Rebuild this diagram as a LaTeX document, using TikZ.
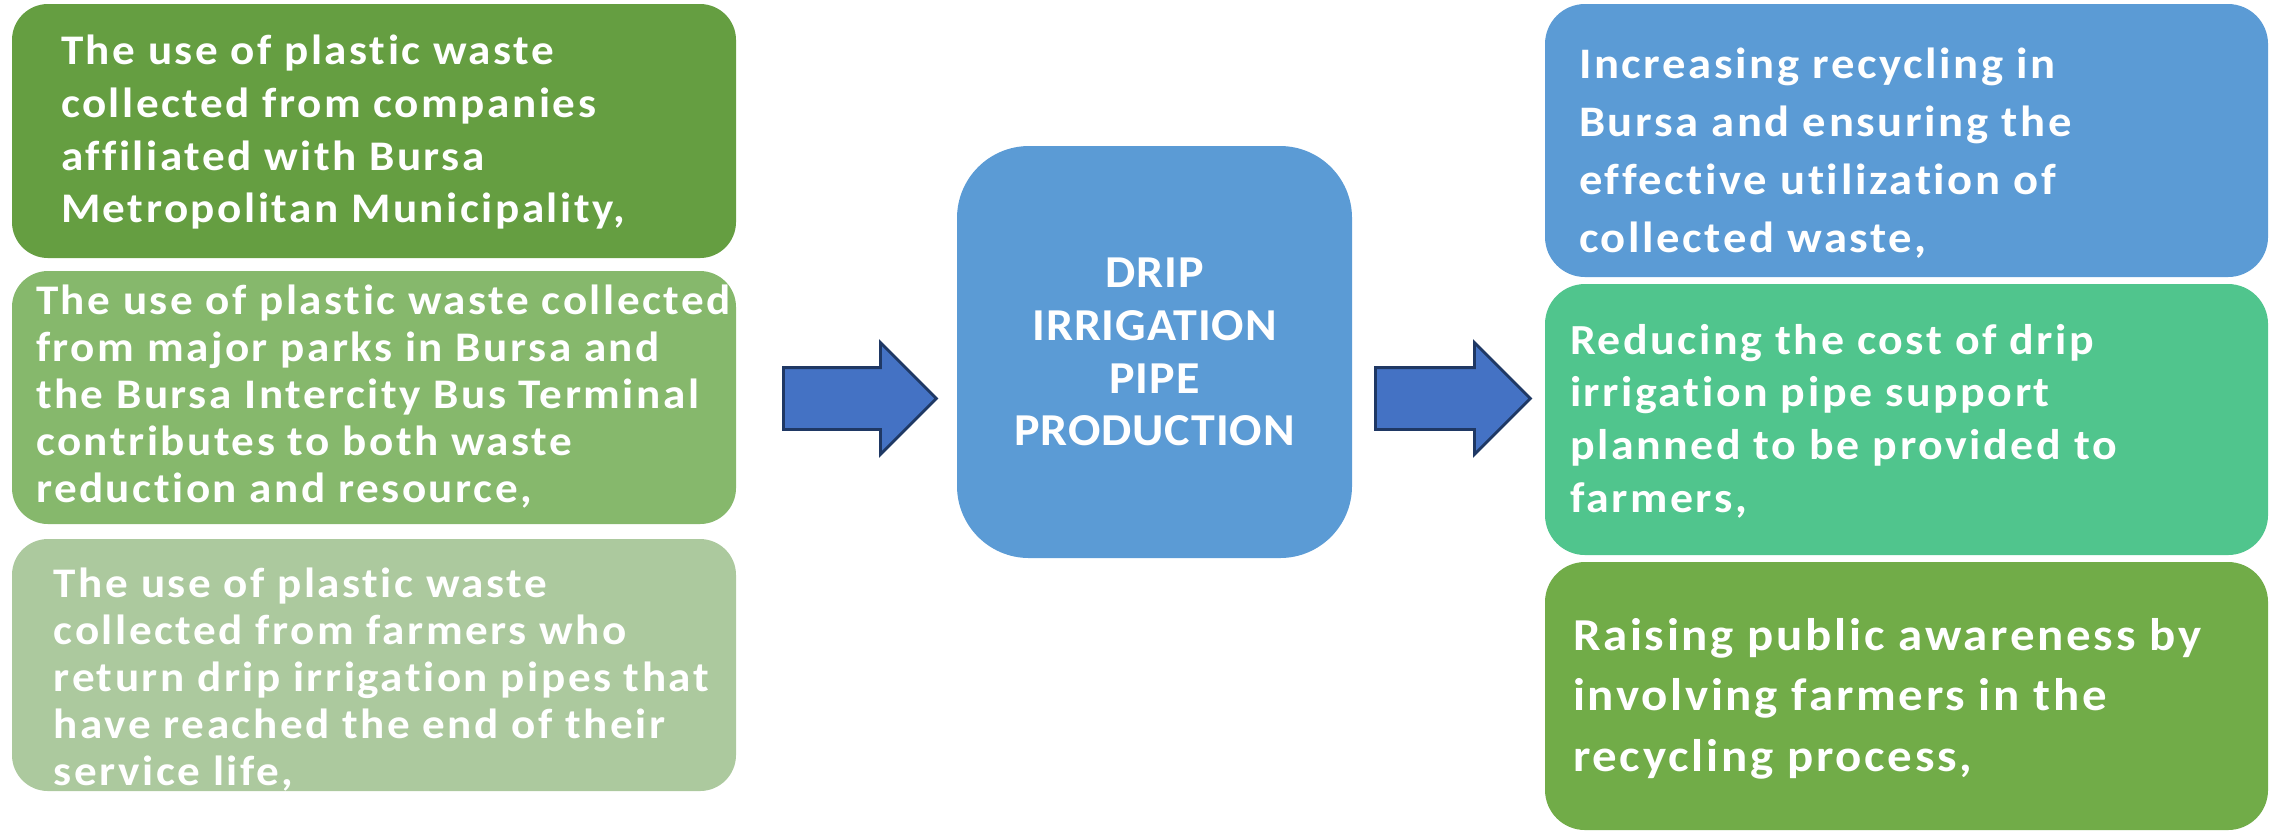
\documentclass[tikz,border=0pt]{standalone}
\usepackage{fontspec}
\setmainfont{Carlito}
\newfontfamily\boxfont[FakeStretch=1.07, LetterSpace=6, Ligatures=NoCommon]{Carlito}
\newfontfamily\capsfont[FakeStretch=1.05, LetterSpace=2]{Carlito}
\usepackage{tikz}
\usetikzlibrary{positioning,shapes.arrows}

\definecolor{greenA}{HTML}{659E41}
\definecolor{greenB}{HTML}{86B86C}
\definecolor{greenC}{HTML}{ACC99E}
\definecolor{boxblue}{HTML}{5B9BD5}
\definecolor{mint}{HTML}{50C58D}
\definecolor{grass}{HTML}{71AC48}
\definecolor{arrowblue}{HTML}{4472C4}
\definecolor{arrowline}{HTML}{1F3864}

\tikzset{
  box/.style={rounded corners=0.36cm, inner sep=0pt, minimum width=7.24cm},
  rbox/.style={rounded corners=0.4cm, inner sep=0pt, minimum width=7.23cm},
  txt/.style={text=white, align=left, inner sep=0pt},
  blockarrow/.style={single arrow, draw=arrowline, fill=arrowblue, line width=0.8pt,
    minimum height=1.53cm, minimum width=1.09cm, single arrow head extend=0.25cm,
    inner xsep=0pt, inner ysep=0.295cm, anchor=west}
}

\begin{document}
\begin{tikzpicture}
    \useasboundingbox (0,0) rectangle (22.84,-8.33);

    % Define nodes
    \node[box, fill=greenA, minimum height=2.54cm]	(l1)	at (3.74,-1.31)	{};
    \node[box, fill=greenB, minimum height=2.53cm]	(l2)	at (3.74,-3.975)	{};
    \node[box, fill=greenC, minimum height=2.52cm]	(l3)	at (3.74,-6.65)	{};

    \node[fill=boxblue, rounded corners=0.72cm, minimum width=3.95cm, minimum height=4.12cm,
          text=white, align=center, font=\fontsize{13}{15}\capsfont\bfseries]
          (mid) at (11.545,-3.52) {DRIP\\IRRIGATION\\PIPE\\PRODUCTION};

    \node[rbox, fill=boxblue, minimum height=2.73cm]	(r1)	at (19.065,-1.405)	{};
    \node[rbox, fill=mint, minimum height=2.71cm]	(r2)	at (19.065,-4.195)	{};
    \node[rbox, fill=grass, minimum height=2.68cm]	(r3)	at (19.065,-6.96)	{};

    \node[blockarrow]	(a1)	at (7.82,-3.985)	{};
    \node[blockarrow, minimum height=1.55cm]	(a2)	at (13.74,-3.985)	{};

    % Box texts
    \node[txt, font=\fontsize{12}{15}\boxfont\bfseries, below right=0.31cm and 0.49cm of l1.north west]
        (t1) {The use of plastic waste\\collected from companies\\affiliated with Bursa\\Metropolitan Municipality,};
    \node[txt, font=\fontsize{12}{13.4}\boxfont\bfseries, below right=0.14cm and 0.24cm of l2.north west]
        (t2) {The use of plastic waste collected\\from major parks in Bursa and\\the Bursa Intercity Bus Terminal\\contributes to both waste\\reduction and resource,};
    \node[txt, font=\fontsize{12}{13.4}\boxfont\bfseries, below right=0.29cm and 0.42cm of l3.north west]
        (t3) {The use of plastic waste\\collected from farmers who\\return drip irrigation pipes that\\have reached the end of their\\service life,};

    \node[txt, font=\fontsize{12.4}{16.5}\boxfont\bfseries, below right=0.44cm and 0.34cm of r1.north west]
        (t4) {Increasing recycling in\\Bursa and ensuring the\\effective utilization of\\collected waste,};
    \node[txt, font=\fontsize{12.2}{15}\boxfont\bfseries, below right=0.4cm and 0.25cm of r2.north west]
        (t5) {Reducing the cost of drip\\irrigation pipe support\\planned to be provided to\\farmers,};
    \node[txt, font=\fontsize{13}{17.3}\boxfont\bfseries, below right=0.56cm and 0.28cm of r3.north west]
        (t6) {Raising public awareness by\\involving farmers in the\\recycling process,};
\end{tikzpicture}
\end{document}
